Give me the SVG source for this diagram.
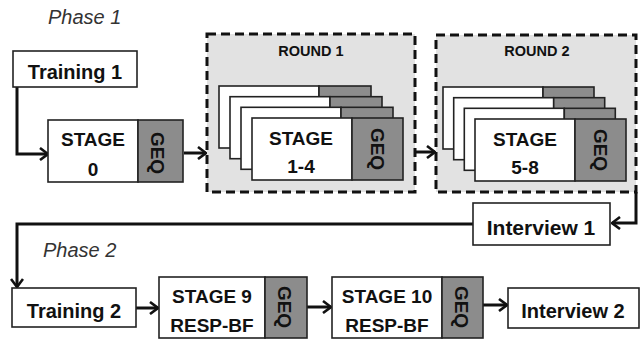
<svg xmlns="http://www.w3.org/2000/svg" width="642" height="341" viewBox="0 0 642 341">
<defs>
<style>
.box{fill:#fff;stroke:#222;stroke-width:1.6}
.geq{fill:#8c8c8c;stroke:#222;stroke-width:1.6}
.round{fill:#e2e2e2;stroke:#111;stroke-width:3;stroke-dasharray:9,5}
.t{font-family:"Liberation Sans",Arial,sans-serif;font-weight:bold;fill:#111;text-anchor:middle}
.m{font-size:19px}
.g{font-size:19px}
.r{font-size:14.5px}
.ph{font-family:"Liberation Sans",Arial,sans-serif;font-style:italic;font-size:20px;fill:#333}
.c{fill:none;stroke:#111;stroke-width:3;stroke-linejoin:miter}
</style>
<marker id="ah" viewBox="0 0 10 14" refX="9" refY="7" markerWidth="10" markerHeight="14" markerUnits="userSpaceOnUse" orient="auto">
<path d="M1,1 L9,7 L1,13" fill="none" stroke="#111" stroke-width="2.6"/>
</marker>
</defs>
<rect width="642" height="341" fill="#fff"/>

<text class="ph" x="48" y="24">Phase 1</text>
<text class="ph" x="43" y="257">Phase 2</text>

<g id="connectors">
<path class="c" d="M17,87 V154 H48" marker-end="url(#ah)"/>
<path class="c" d="M184,153 H206" marker-end="url(#ah)"/>
<path class="c" d="M415,152 H435" marker-end="url(#ah)"/>
<path class="c" d="M636,192 V223 H612" marker-end="url(#ah)"/>
<path class="c" d="M473,224 H17 V287" marker-end="url(#ah)"/>
<path class="c" d="M136,308 H158" marker-end="url(#ah)"/>
<path class="c" d="M307,307 H331" marker-end="url(#ah)"/>
<path class="c" d="M483,305 H507" marker-end="url(#ah)"/>
</g>

<g id="training1">
<rect class="box" x="13" y="51" width="124" height="36"/>
<text class="t m" x="75" y="79" style="font-size:20px">Training 1</text>
</g>

<g id="stage0">
<rect class="box" x="48" y="120" width="90" height="62"/>
<rect class="geq" x="138" y="120" width="45" height="62"/>
<text class="t m" x="93" y="146">STAGE</text>
<text class="t m" x="93" y="176">0</text>
<text class="t g" transform="translate(158,153) rotate(90)" x="0" y="7">GEQ</text>
</g>

<g id="round1">
<rect class="round" x="207" y="34" width="208" height="158"/>
<text class="t r" x="311" y="56">ROUND 1</text>
<rect class="box" x="219" y="86" width="100" height="62"/><rect class="geq" x="319" y="86" width="52" height="62"/>
<rect class="box" x="230" y="96.7" width="100" height="62"/><rect class="geq" x="330" y="96.7" width="52" height="62"/>
<rect class="box" x="241" y="107.3" width="100" height="62"/><rect class="geq" x="341" y="107.3" width="52" height="62"/>
<rect class="box" x="252" y="118" width="100" height="62"/><rect class="geq" x="352" y="118" width="51" height="62"/>
<text class="t m" x="301" y="145">STAGE</text>
<text class="t m" x="301" y="173">1-4</text>
<text class="t g" transform="translate(377.5,149) rotate(90)" x="0" y="7">GEQ</text>
</g>

<g id="round2">
<rect class="round" x="436" y="35" width="200" height="157"/>
<text class="t r" x="537" y="56">ROUND 2</text>
<rect class="box" x="443" y="87" width="100" height="62"/><rect class="geq" x="543" y="87" width="51" height="62"/>
<rect class="box" x="453.7" y="97.7" width="100" height="62"/><rect class="geq" x="553.7" y="97.7" width="51" height="62"/>
<rect class="box" x="464.3" y="108.3" width="100" height="62"/><rect class="geq" x="564.3" y="108.3" width="51" height="62"/>
<rect class="box" x="475" y="119" width="100" height="62"/><rect class="geq" x="575" y="119" width="51" height="62"/>
<text class="t m" x="525" y="146">STAGE</text>
<text class="t m" x="525" y="174">5-8</text>
<text class="t g" transform="translate(600.5,150) rotate(90)" x="0" y="7">GEQ</text>
</g>

<g id="interview1">
<rect class="box" x="473" y="203" width="137" height="42"/>
<text class="t m" x="541" y="235" style="font-size:21px">Interview 1</text>
</g>

<g id="training2">
<rect class="box" x="12" y="288" width="124" height="39"/>
<text class="t m" x="74" y="318" style="font-size:20px">Training 2</text>
</g>

<g id="stage9">
<rect class="box" x="159" y="277" width="106" height="61"/>
<rect class="geq" x="265" y="277" width="42" height="61"/>
<text class="t m" x="212" y="303">STAGE 9</text>
<text class="t m" x="212" y="332">RESP-BF</text>
<text class="t g" transform="translate(285,307) rotate(90)" x="0" y="7">GEQ</text>
</g>

<g id="stage10">
<rect class="box" x="332" y="277" width="110" height="61"/>
<rect class="geq" x="442" y="277" width="41" height="61"/>
<text class="t m" x="387" y="303">STAGE 10</text>
<text class="t m" x="387" y="332">RESP-BF</text>
<text class="t g" transform="translate(462,307) rotate(90)" x="0" y="7">GEQ</text>
</g>

<g id="interview2">
<rect class="box" x="508" y="288" width="131" height="40"/>
<text class="t m" x="573" y="318" style="font-size:20px">Interview 2</text>
</g>
</svg>
